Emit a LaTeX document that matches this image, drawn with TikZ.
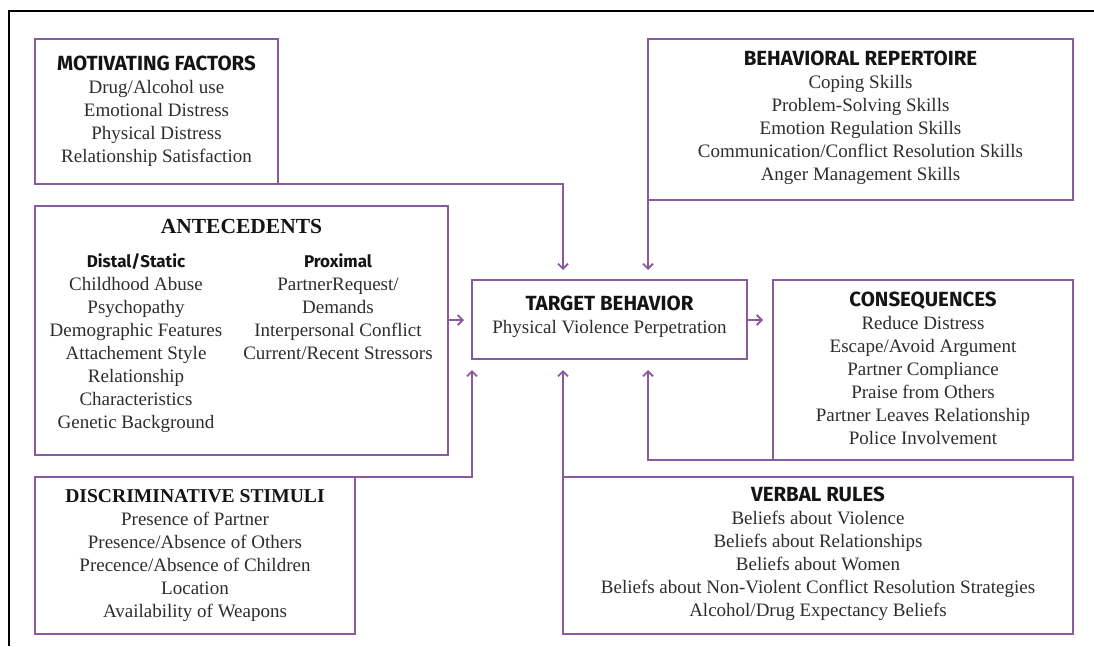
\documentclass[tikz,border=0pt]{standalone}
\usepackage{fontspec}
\setmainfont{Liberation Serif}
\newfontfamily\hfont{Fira Sans}
\usetikzlibrary{arrows.meta}
\definecolor{boxpurple}{RGB}{138,90,158}
\definecolor{txt}{RGB}{45,45,45}
\definecolor{ttl}{RGB}{20,20,20}
\newcommand{\hd}[2][20.5]{{\fontsize{#1}{23}\hfont\bfseries\color{ttl}#2}}
\newcommand{\sbh}[2][17]{{\fontsize{#1}{23}\hfont\bfseries\color{ttl}#2}}
\newcommand{\srh}[2][21.5]{{\fontsize{#1}{23}\selectfont\bfseries\color{ttl}#2}}
\begin{document}
\begin{tikzpicture}[x=1pt,y=-1pt,
  box/.style={draw=boxpurple, line width=1.8pt, inner sep=0pt, outer sep=0pt, rectangle},
  content/.style={anchor=north, inner sep=0pt, align=center, text=txt,
    font=\fontsize{19}{23}\selectfont},
  conn/.style={draw=boxpurple, line width=1.8pt,
    -{Straight Barb[length=5pt,width=10pt]}},
  frame/.style={draw=black, line width=2.2pt}]
\useasboundingbox (0,0) rectangle (1094,646);
% outer frame (top and left sides visible)
\draw[frame] (9,646) -- (9,11) -- (1094,11);

% boxes
\node[box, minimum width=243pt, minimum height=145pt] (mf)   at (156.5,111.5) {};
\node[box, minimum width=425pt, minimum height=161pt] (br)   at (860.5,119.5) {};
\node[box, minimum width=413pt, minimum height=249pt] (ant)  at (241.5,330.5) {};
\node[box, minimum width=275pt, minimum height=79pt]  (tb)   at (609.5,319.5) {};
\node[box, minimum width=300pt, minimum height=180pt] (cons) at (923,370) {};
\node[box, minimum width=320pt, minimum height=157pt] (ds)   at (195,555.5) {};
\node[box, minimum width=510pt, minimum height=157pt] (vr)   at (818,555.5) {};

% contents
\node[content] (mft) at (156.5,53.9) {\hd{MOTIVATING FACTORS}\strut\\Drug/Alcohol use\\Emotional Distress\\Physical Distress\\Relationship Satisfaction};
\node[content] (brt) at (860.5,48.9) {\hd{BEHAVIORAL REPERTOIRE}\strut\\Coping Skills\\Problem-Solving Skills\\Emotion Regulation Skills\\Communication/Conflict Resolution Skills\\Anger Management Skills};
\node[anchor=base, inner sep=0pt] (antt) at (241.5,233) {\srh{ANTECEDENTS}};
\node[content] (antd) at (136,250.9) {\sbh{Distal/Static}\strut\\Childhood Abuse\\Psychopathy\\Demographic Features\\Attachement Style\\Relationship\\Characteristics\\Genetic Background};
\node[content] (antp) at (338,250.9) {\sbh{Proximal}\strut\\PartnerRequest/\\Demands\\Interpersonal Conflict\\Current/Recent Stressors};
\node[content] (tbt) at (609.5,293.9) {\hd{TARGET BEHAVIOR}\strut\\Physical Violence Perpetration};
\node[content] (const) at (923,289.9) {\hd{CONSEQUENCES}\strut\\Reduce Distress\\Escape/Avoid Argument\\Partner Compliance\\Praise from Others\\Partner Leaves Relationship\\Police Involvement};
\node[content] (dst) at (195,485.9) {\srh[19.6]{DISCRIMINATIVE STIMULI}\strut\\Presence of Partner\\Presence/Absence of Others\\Precence/Absence of Children\\Location\\Availability of Weapons};
\node[content] (vrt) at (818,484.9) {\hd{VERBAL RULES}\strut\\Beliefs about Violence\\Beliefs about Relationships\\Beliefs about Women\\Beliefs about Non-Violent Conflict Resolution Strategies\\Alcohol/Drug Expectancy Beliefs};

% connector end points
\coordinate (mfend)   at (563,270);
\coordinate (brend)   at (648,270);
\coordinate (antend)  at (464,320);
\coordinate (tbend)   at (763,320);
\coordinate (dsend)   at (472,370);
\coordinate (vrend)   at (563,370);
\coordinate (consend) at (648,370);

% connectors
\draw[conn] (mf.south east) -| (mfend);
\draw[conn] (br.south west) -- (brend);
\draw[conn] (ant.east |- antend) -- (antend);
\draw[conn] (tb.east |- tbend) -- (tbend);
\draw[conn] (ds.north east) -| (dsend);
\draw[conn] (vr.north west) -- (vrend);
\draw[conn] (cons.south west) -| (consend);
\end{tikzpicture}
\end{document}
